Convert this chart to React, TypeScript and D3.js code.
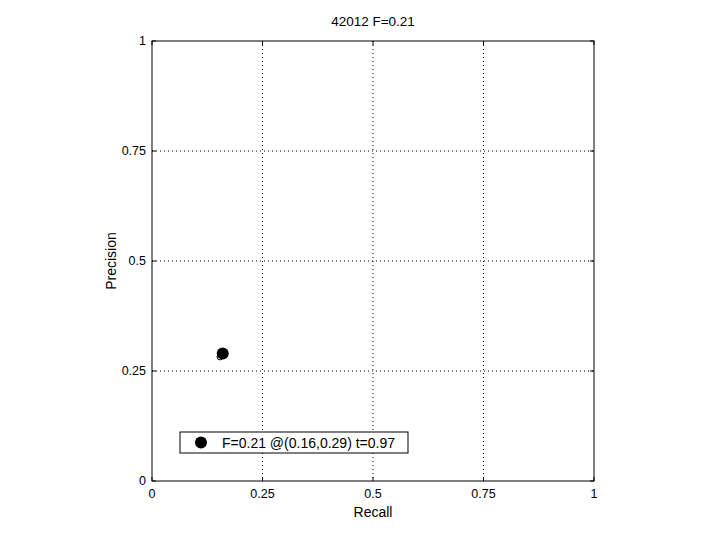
import React from "react";
import * as d3 from "d3";

const titleText = "42012 F=0.21";
const xTicks = [0, 0.25, 0.5, 0.75, 1];
const yTicks = [0, 0.25, 0.5, 0.75, 1];
const tickLabels = ["0", "0.25", "0.5", "0.75", "1"];
const curveRecall = [0.154];
const curvePrecision = [0.282];
const bestRecall = [0.16];
const bestPrecision = [0.29];
const legendText = "F=0.21 @(0.16,0.29) t=0.97";

export default function App() {
  const W = 720, H = 540;
  const left = 152, right = 594, top = 41, bottom = 481;
  const x = d3.scaleLinear().domain([0, 1]).range([left, right]);
  const y = d3.scaleLinear().domain([0, 1]).range([bottom, top]);
  const font = "Liberation Sans, Arial, sans-serif";
  return (
    <svg width={W} height={H} style={{ position: "absolute", left: 0, top: 0, background: "#fff" }}>
      <rect x={0} y={0} width={W} height={H} fill="#fff" />
      {xTicks.slice(1, -1).map((t) => (
        <line key={"gx" + t} x1={x(t)} x2={x(t)} y1={top} y2={bottom} stroke="#000" strokeWidth={1} strokeDasharray="1,3" />
      ))}
      {yTicks.slice(1, -1).map((t) => (
        <line key={"gy" + t} x1={left} x2={right} y1={y(t)} y2={y(t)} stroke="#000" strokeWidth={1} strokeDasharray="1,3" />
      ))}
      <rect x={left} y={top} width={right - left} height={bottom - top} fill="none" stroke="#000" strokeWidth={1} />
      {xTicks.map((t, i) => (
        <g key={"xt" + t}>
          <line x1={x(t)} x2={x(t)} y1={bottom} y2={bottom - 4} stroke="#000" />
          <line x1={x(t)} x2={x(t)} y1={top} y2={top + 4} stroke="#000" />
          <text x={x(t)} y={bottom + 17} textAnchor="middle" fontFamily={font} fontSize={12.5}>{tickLabels[i]}</text>
        </g>
      ))}
      {yTicks.map((t, i) => (
        <g key={"yt" + t}>
          <line x1={left} x2={left + 4} y1={y(t)} y2={y(t)} stroke="#000" />
          <line x1={right} x2={right - 4} y1={y(t)} y2={y(t)} stroke="#000" />
          <text x={left - 6} y={y(t) + 4} textAnchor="end" fontFamily={font} fontSize={12.5}>{tickLabels[i]}</text>
        </g>
      ))}
      <text x={(left + right) / 2} y={26} textAnchor="middle" fontFamily={font} fontSize={13.5}>{titleText}</text>
      <text x={(left + right) / 2} y={517} textAnchor="middle" fontFamily={font} fontSize={14}>Recall</text>
      <text transform={`translate(116,${(top + bottom) / 2}) rotate(-90)`} textAnchor="middle" fontFamily={font} fontSize={14}>Precision</text>
      {curveRecall.map((r, i) => (
        <circle key={"c" + i} cx={x(r)} cy={y(curvePrecision[i])} r={3} fill="none" stroke="#000" strokeWidth={1} />
      ))}
      {bestRecall.map((r, i) => (
        <circle key={"b" + i} cx={x(r)} cy={y(bestPrecision[i])} r={6} fill="#000" />
      ))}
      <rect x={180} y={432} width={228} height={21} fill="#fff" stroke="#000" strokeWidth={1} />
      <circle cx={201} cy={442.5} r={6} fill="#000" />
      <text x={222} y={447.5} fontFamily={font} fontSize={14}>{legendText}</text>
    </svg>
  );
}
